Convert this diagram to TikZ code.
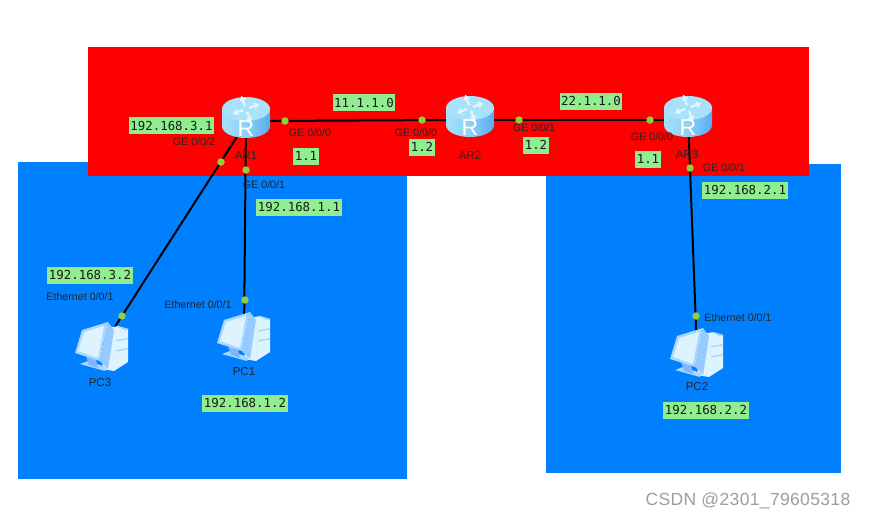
\documentclass[tikz,border=0pt]{standalone}
\usepackage{fontspec}
\setmainfont{Liberation Sans}
\newfontfamily\monof{DejaVu Sans Mono}
\newfontfamily\markf[LetterSpace=2]{Liberation Sans}
\definecolor{zonered}{HTML}{FF0000}
\definecolor{zoneblue}{HTML}{0080FF}
\definecolor{tagfill}{HTML}{90EE90}
\definecolor{portdot}{HTML}{90CF3C}
\definecolor{rtop}{HTML}{A8E2FA}
\definecolor{rsidel}{HTML}{A4E0FA}
\definecolor{rsider}{HTML}{58ACEE}
\definecolor{pclight}{HTML}{DDF3FF}
\definecolor{pcmid}{HTML}{A8D8FF}
\definecolor{pcdark}{HTML}{6FA8FF}
\tikzset{
  x=1pt,y=-1pt,
  tag/.style={fill=tagfill,font=\monof\fontsize{12.4}{12}\selectfont,inner xsep=1.5pt,inner ysep=0pt,minimum height=17pt,text=black!90},
  port/.style={font=\fontsize{10.7}{11}\selectfont,inner sep=0pt,text=black!85},
  devname/.style={font=\fontsize{11.5}{12}\selectfont,inner sep=0pt,text=black!85},
  pdot/.style={circle,fill=portdot,inner sep=0pt,minimum size=7.5pt},
  link/.style={line width=2pt,black},
  anchorbox/.style={inner sep=0pt,minimum width=10pt,minimum height=10pt},
  pics/routericon/.style={code={
    \path[left color=rsidel,right color=rsider,middle color=rsidel!70!rsider]
      (-24,-9) -- (-24,8) .. controls (-24,15) and (-13,20) .. (0,20) .. controls (13,20) and (24,15) .. (24,8) -- (24,-9) -- cycle;
    \path[fill=rtop] (0,-9) ellipse[x radius=24,y radius=12];
    \foreach \a in {20,110,200,290}{
      \fill[white!65!rtop,rotate around={\a:(0,-9)}] (3,-10.2) -- (9,-10.2) -- (9,-12.5) -- (14,-9) -- (9,-5.5) -- (9,-7.8) -- (3,-7.8) -- cycle;
    }
    \node[text=white,font=\fontsize{23}{23}\selectfont,inner sep=0pt] at (0,10.5) {R};
  }},
  pics/pcicon/.style={code={
    % tower
    \fill[pclight] (6,-19) -- (16,-21) -- (26,-18) -- (26,15) -- (12,24) -- (0,22) -- cycle;
    \fill[pcmid] (14,-20.5) -- (16,-21) -- (26,-18) -- (24,-16.5) -- cycle;
    \fill[pcmid] (14,-7) -- (26,-9) -- (26,-7.5) -- (14,-5.5) -- cycle;
    \fill[pcmid] (14,3) -- (26,1) -- (26,2.5) -- (14,4.5) -- cycle;
    % stand
    \fill[pcmid] (-22,17) -- (-14,14) -- (4,20) -- (3,24) -- cycle;
    \fill[pcdark!70!pcmid] (-16,9) -- (-6,12) -- (-4,21) -- (-13,18) -- cycle;
    % monitor side
    \fill[pcmid!70!pcdark] (6,-25) -- (12,-17) -- (6,22) -- (-2,14) -- cycle;
    % monitor
    \fill[pcmid] (-20,-17) -- (6,-25) -- (-2,14) -- (-27,6) -- cycle;
    \fill[pclight] (-18,-15) -- (2,-21) -- (-4,11) -- (-24,4) -- cycle;
  }}
}
\begin{document}
\begin{tikzpicture}
\useasboundingbox (0,0) rectangle (869,520);
\fill[white] (0,0) rectangle (869,520);
\fill[zoneblue] (18,162) rectangle (407,479);
\fill[zoneblue] (546,164) rectangle (841,473);
\fill[zonered] (88,47) rectangle (809,176);

\node[anchorbox] (ar1) at (246,118) {};
\node[anchorbox] (ar2) at (470,117) {};
\node[anchorbox] (ar3) at (688,117) {};
\node[anchorbox] (pc3) at (102,347) {};
\node[anchorbox] (pc1) at (244,337) {};
\node[anchorbox] (pc2) at (697,353) {};

\coordinate (ar1e) at (270,121);
\coordinate (ar2w) at (446,120);
\coordinate (ar2e) at (494,120);
\coordinate (ar3w) at (664,120);
\coordinate (ar1s) at (249,118);
\draw[link] (ar1e) -- (ar2w);
\draw[link] (ar2e) -- (ar3w);
\draw[link] (ar1.center) -- (pc1.center);
\draw[link] (ar1s) -- (pc3.center);
\draw[link] (ar3.center) -- (pc2.center);

\pic at (ar1) {routericon};
\pic at (ar2) {routericon};
\pic at (ar3) {routericon};
\pic at (pc3) {pcicon};
\pic at (pc1) {pcicon};
\pic at (pc2) {pcicon};

\foreach \n/\x/\y in {d1/285/121,d2/221/162,d3/246/170,d4/122/316,d5/245/300,d6/422/120,d7/519/120,d8/650/120,d9/690/168,d10/696/316}
  \node[pdot] (\n) at (\x,\y) {};

\node[devname] (n1) at (246,156) {AR1};
\node[devname] (n2) at (470,155) {AR2};
\node[devname] (n3) at (687,155) {AR3};
\node[devname] (n4) at (100,383) {PC3};
\node[devname] (n5) at (244,372) {PC1};
\node[devname] (n6) at (697,387) {PC2};

\node[port] (p1) at (194,142) {GE 0/0/2};
\node[port] (p2) at (310,133) {GE 0/0/0};
\node[port] (p3) at (264,185) {GE 0/0/1};
\node[port] (p4) at (416,133) {GE 0/0/0};
\node[port] (p5) at (534,128) {GE 0/0/1};
\node[port] (p6) at (652,137) {GE 0/0/0};
\node[port] (p7) at (724,168) {GE 0/0/1};
\node[port] (p8) at (80,297) {Ethernet 0/0/1};
\node[port] (p9) at (198,305) {Ethernet 0/0/1};
\node[port] (p10) at (738,318) {Ethernet 0/0/1};

\node[tag] (t1) at (171.5,125.5) {192.168.3.1};
\node[tag] (t2) at (364,102.5) {11.1.1.0};
\node[tag] (t3) at (306,156) {1.1};
\node[tag] (t4) at (299,207) {192.168.1.1};
\node[tag] (t5) at (422,147) {1.2};
\node[tag] (t6) at (536,145) {1.2};
\node[tag] (t7) at (591,101) {22.1.1.0};
\node[tag] (t8) at (648,159) {1.1};
\node[tag] (t9) at (745,190) {192.168.2.1};
\node[tag] (t10) at (90,275) {192.168.3.2};
\node[tag] (t11) at (245,403) {192.168.1.2};
\node[tag] (t12) at (706,410) {192.168.2.2};

\node[font=\markf\fontsize{17.5}{18}\selectfont,text=black!38,inner sep=0pt] (wm) at (748,501) {CSDN @2301\_79605318};
\end{tikzpicture}
\end{document}
